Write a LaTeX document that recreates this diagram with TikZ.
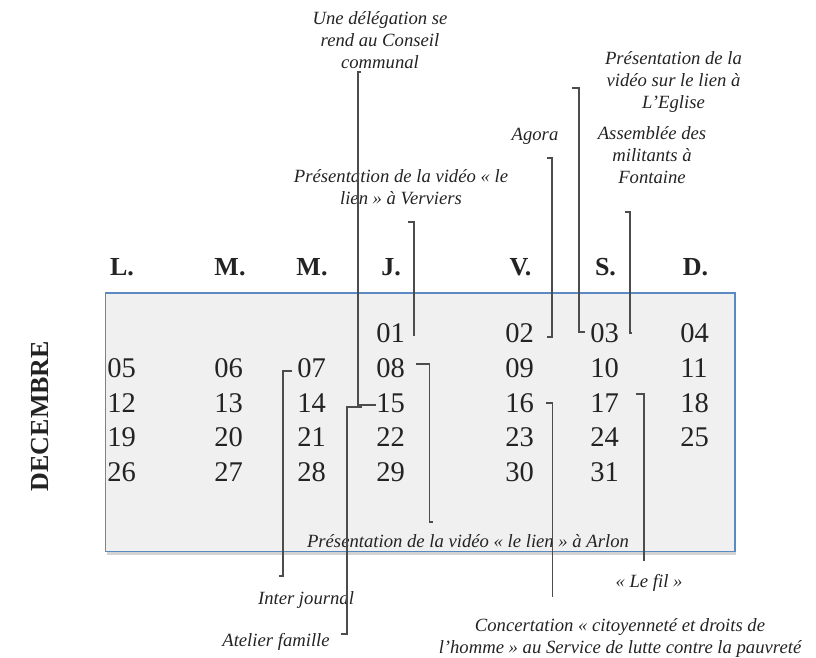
\documentclass[tikz,border=0pt]{standalone}
\usepackage{fontspec}
\setmainfont{Liberation Serif}
\usetikzlibrary{shadows, positioning}

\definecolor{calblue}{RGB}{91,137,196}
\definecolor{calfill}{RGB}{240,240,240}
\definecolor{inkgray}{RGB}{35,35,35}

\begin{document}
\begin{tikzpicture}[x=0.75pt, y=-0.75pt,
    dayhead/.style={font=\fontsize{19.5}{22}\selectfont\bfseries, text=inkgray, inner sep=0, anchor=base},
    daynum/.style={font=\fontsize{21.4}{24}\selectfont, text=inkgray, inner sep=0, anchor=base west},
    event/.style={font=\fontsize{14}{16.5}\selectfont\itshape, text=inkgray, inner sep=0, align=center, anchor=base},
    callout/.style={line width=0.8pt, black!70}]
    \useasboundingbox (0,0) rectangle (816,657);

    % Calendar box
    \draw[calblue, line width=0.9pt, fill=calfill, drop shadow={shadow xshift=1pt, shadow yshift=-2.5pt, opacity=0.35}] (105.5,293) rectangle (735,551.5);

    % Month
    \node[font=\fontsize{19.5}{22}\selectfont\bfseries, text=inkgray, rotate=90, inner sep=0] (month) at (40,416) {DECEMBRE};

    % Day names
    \foreach \x/\lbl [count=\i] in {122/L., 230/M., 312/M., 391/J., 520.5/V., 605.5/S., 695.5/D.}
        \node[dayhead] (h\i) at (\x,275) {\lbl};

    % Day numbers (the 1st is a Thursday)
    \foreach \d in {1,...,31} {
        \pgfmathtruncatemacro{\col}{mod(\d+2,7)}
        \pgfmathtruncatemacro{\row}{div(\d+2,7)}
        \pgfmathsetmacro{\cx}{{107,214,297,376,505,590,680}[\col]}
        \node[daynum] (d\d) at (\cx,342.5+34.8*\row) {\ifnum\d<10 0\fi\d};
    }

    % Events (anchored on the last line)
    \node[event] (dlg) at (380,68.5) {Une délégation se\\rend au Conseil\\communal};
    \node[event] (vrv) at (401,204.5) {Présentation de la vidéo « le\\lien » à Verviers};
    \node[event] (ago) at (535,140) {Agora};
    \node[event] (egl) at (673.5,108.5) {Présentation de la\\vidéo sur le lien à\\L’Eglise};
    \node[event] (fnt) at (652,183.5) {Assemblée des\\militants à\\Fontaine};
    \node[event] (arl) at (468,547) {Présentation de la vidéo « le lien » à Arlon};
    \node[event] (fil) at (649,587) {« Le fil »};
    \node[event] (cct) at (620,653) {Concertation « citoyenneté et droits de\\l’homme » au Service de lutte contre la pauvreté};
    \node[event] (ijn) at (306,604) {Inter journal};
    \node[event] (atl) at (276,646) {Atelier famille};

    % Callout lines
    \coordinate (dlg-t) at (358,72);    \coordinate (dlg-b) at (358,405);
    \coordinate (vrv-t) at (414,222);   \coordinate (vrv-b) at (414,336);
    \coordinate (ago-t) at (552,158);   \coordinate (ago-b) at (552,337);
    \coordinate (egl-t) at (579,88);    \coordinate (egl-b) at (579,332);
    \coordinate (fnt-t) at (630,212);   \coordinate (fnt-b) at (630,333);
    \coordinate (arl-t) at (429.5,364); \coordinate (arl-b) at (429.5,522);
    \coordinate (fil-t) at (644,394);   \coordinate (fil-b) at (644,561);
    \coordinate (cct-t) at (552.5,403); \coordinate (cct-b) at (552.5,597);
    \coordinate (ijn-t) at (283,371);   \coordinate (ijn-b) at (283,576);
    \coordinate (atl-t) at (347,407);   \coordinate (atl-b) at (347,634);

    \draw[callout] (dlg-t) ++(3,0) -- (dlg-t) -- (dlg-b) -- (d15.west |- dlg-b);
    \draw[callout] (vrv-t) ++(-6,0) -- (vrv-t) -- (vrv-b);
    \draw[callout] (ago-t) ++(-5,0) -- (ago-t) -- (ago-b) -- ++(-5,0);
    \draw[callout] (egl-t) ++(-7,0) -- (egl-t) -- (egl-b) -- ++(6,0);
    \draw[callout] (fnt-t) ++(-5,0) -- (fnt-t) -- (fnt-b) -- ++(2,0);
    \draw[callout] (arl-t) ++(-13.5,0) -- (arl-t) -- (arl-b) -- ++(3.5,0);
    \draw[callout] (fil-t) ++(-8,0) -- (fil-t) -- (fil-b);
    \draw[callout] (cct-t) ++(-7,0) -- (cct-t) -- (cct-b);
    \draw[callout] (ijn-t) ++(9,0) -- (ijn-t) -- (ijn-b) -- ++(-4,0);
    \draw[callout] (atl-t) ++(15,0) -- (atl-t) -- (atl-b) -- ++(-6,0);
\end{tikzpicture}
\end{document}
